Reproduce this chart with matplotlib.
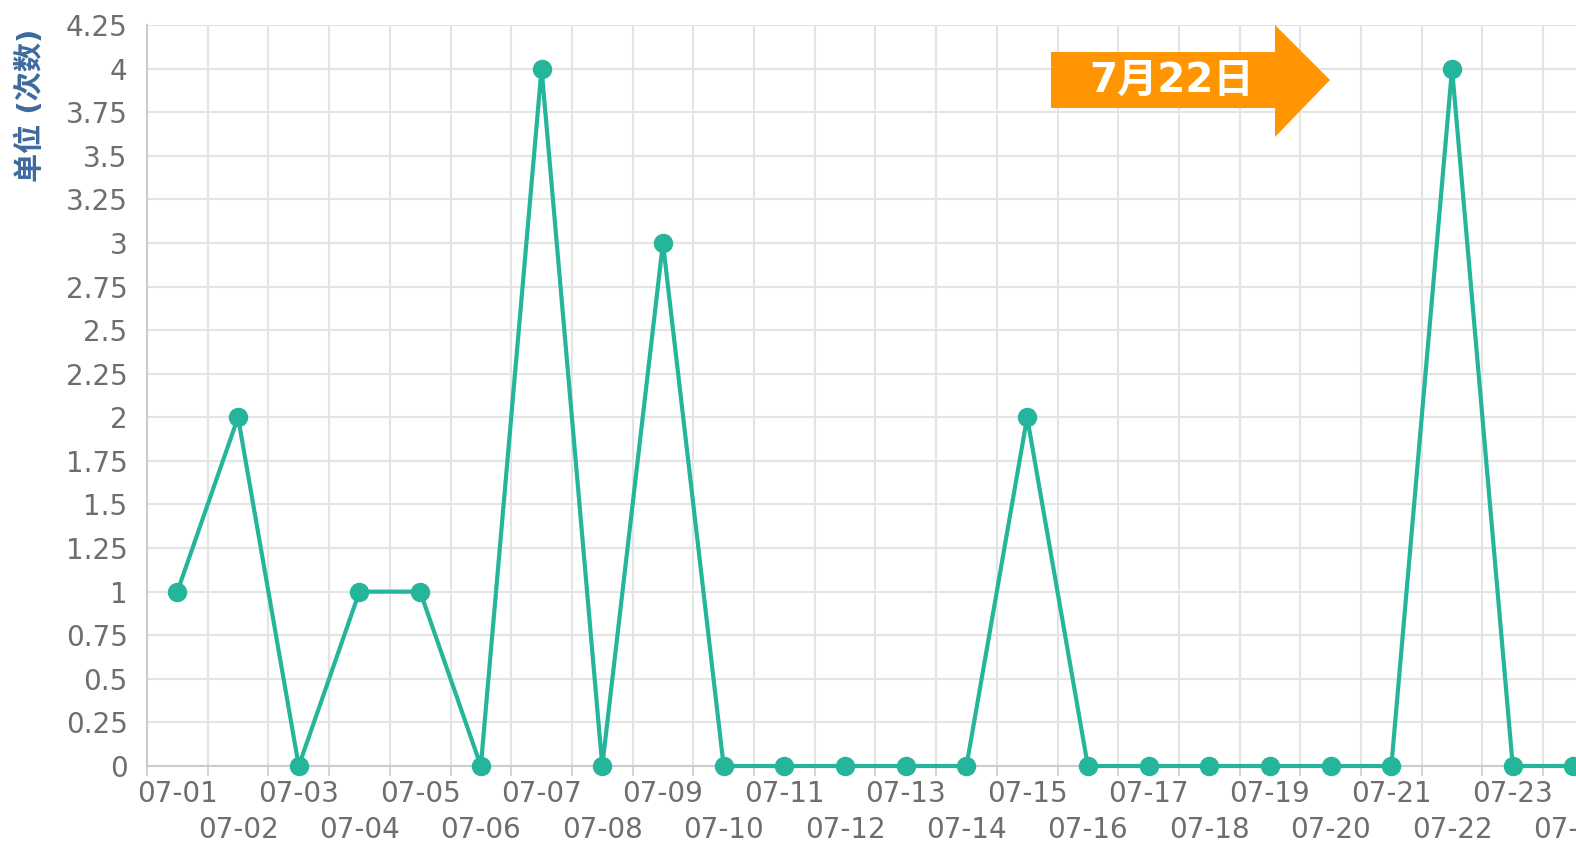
import matplotlib.pyplot as plt
from matplotlib.patches import Polygon
from matplotlib.ticker import MultipleLocator, FuncFormatter
import numpy as np

plt.rcParams['font.family'] = ['DejaVu Sans', 'Noto Sans CJK SC']

dates = ['07-%02d' % d for d in range(1, 25)]
counts = [1, 2, 0, 1, 1, 0, 4, 0, 3, 0, 0, 0, 0, 0, 2, 0, 0, 0, 0, 0, 0, 4, 0, 0]
y_label = '单位 (次数)'
note = '7月22日'

W, H = 1576, 843
fig = plt.figure(figsize=(W / 100, H / 100), dpi=100)
ax = fig.add_axes([147 / W, 1 - 766 / H, (W - 147) / W, (766 - 25) / H])

x = np.arange(len(dates))
ax.plot(x, counts, color='#25b59b', lw=3, marker='o', ms=13, zorder=3, clip_on=False)

step = 60.7
ax.set_xlim(-0.5, (W - 147) / step - 0.5)
ax.set_ylim(0, 4.25)

# grid on category boundaries and every 0.25
ax.set_xticks(x - 0.5, minor=True)
ax.set_xticks(x[::2])
ax.set_xticklabels(dates[::2])
ax.yaxis.set_major_locator(MultipleLocator(0.25))
ax.yaxis.set_major_formatter(FuncFormatter(lambda v, p: '%g' % v))
ax.grid(True, which='minor', axis='x', color='#e4e4e4', lw=1.5)
ax.grid(True, which='major', axis='y', color='#e4e4e4', lw=1.5)

lab_col = '#6e6e6e'
ax.tick_params(axis='x', which='major', length=0, pad=10, labelsize=20, labelcolor=lab_col)
ax.tick_params(axis='x', which='minor', length=7, width=1.2, color='#cccccc')
ax.tick_params(axis='y', length=0, pad=14, labelsize=20, labelcolor=lab_col)

# second row of date labels
sec = ax.secondary_xaxis('bottom')
sec.set_xticks(x[1::2])
sec.set_xticklabels(dates[1::2])
sec.tick_params(axis='x', length=0, pad=36, labelsize=20, labelcolor=lab_col)
sec.spines['bottom'].set_visible(False)

for s in ['top', 'right']:
    ax.spines[s].set_visible(False)
for s in ['left', 'bottom']:
    ax.spines[s].set_color('#cccccc')
    ax.spines[s].set_linewidth(1.5)

fig.text(31 / W, 1 - 105 / H, y_label, rotation=90, ha='center', va='center',
         fontsize=21, fontweight='bold', color='#3d6a9e')

# orange arrow callout
px = [(1051, 52), (1275, 52), (1275, 25), (1330, 80), (1275, 137), (1275, 108), (1051, 108)]
arrow = Polygon([(a / W, 1 - b / H) for a, b in px], closed=True, transform=fig.transFigure,
                facecolor='#ff9500', edgecolor='none', zorder=5)
fig.patches.append(arrow)
fig.text(1172 / W, 1 - 81 / H, note, ha='center', va='center', fontsize=29,
         fontweight='bold', color='white', zorder=6)

fig.savefig('out.png', dpi=100, facecolor='white')
